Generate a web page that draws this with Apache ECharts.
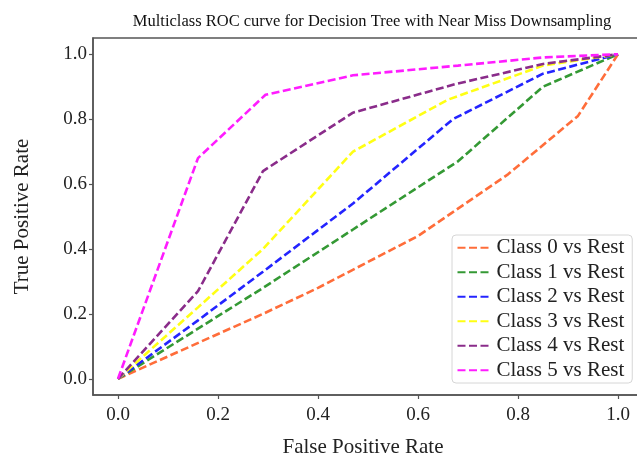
<!DOCTYPE html>
<html>
<head>
<meta charset="utf-8">
<script src="https://cdn.jsdelivr.net/npm/echarts@6/dist/echarts.min.js"></script>
<style>
  html, body { margin: 0; padding: 0; background: #fff; }
  #chart { width: 637px; height: 457px; }
</style>
</head>
<body>
<div id="chart"></div>
<script>
// ROC curve points (false positive rate / true positive rate) per class
const classNames = ['Class 0 vs Rest', 'Class 1 vs Rest', 'Class 2 vs Rest',
                    'Class 3 vs Rest', 'Class 4 vs Rest', 'Class 5 vs Rest'];
const fpr0 = [0, 0.29, 0.40, 0.60, 0.78, 0.92, 1];
const tpr0 = [0, 0.20, 0.28, 0.44, 0.63, 0.81, 1];
const fpr1 = [0, 0.29, 0.47, 0.68, 0.85, 1];
const tpr1 = [0, 0.28, 0.46, 0.67, 0.90, 1];
const fpr2 = [0, 0.16, 0.29, 0.47, 0.67, 0.85, 1];
const tpr2 = [0, 0.18, 0.33, 0.54, 0.80, 0.94, 1];
const fpr3 = [0, 0.16, 0.29, 0.47, 0.66, 0.85, 1];
const tpr3 = [0, 0.22, 0.40, 0.70, 0.86, 0.965, 1];
const fpr4 = [0, 0.16, 0.29, 0.47, 0.68, 0.85, 1];
const tpr4 = [0, 0.27, 0.64, 0.82, 0.91, 0.97, 1];
const fpr5 = [0, 0.16, 0.295, 0.47, 0.68, 0.85, 1];
const tpr5 = [0, 0.68, 0.875, 0.935, 0.965, 0.99, 1];
const tickValues = [0, 0.2, 0.4, 0.6, 0.8, 1.0];

const fprs = [fpr0, fpr1, fpr2, fpr3, fpr4, fpr5];
const tprs = [tpr0, tpr1, tpr2, tpr3, tpr4, tpr5];
const colors = ['#ff6d3a', '#349934', '#2424ff', '#ffff14', '#8a2c8a', '#ff1cff'];

const serif = "'Liberation Serif', 'Times New Roman', serif";
const frame = '#555';

const series = classNames.map((name, i) => ({
  name: name,
  type: 'line',
  data: fprs[i].map((x, j) => [x, tprs[i][j]]),
  symbol: 'none',
  showSymbol: false,
  smooth: false,
  lineStyle: { color: colors[i], width: 2.6, type: [8, 3.5] },
  itemStyle: { color: colors[i] },
  emphasis: { disabled: true }
}));

function axisCommon(nameGap, labelMargin) {
  return {
    type: 'value',
    min: -0.05,
    max: 1.05,
    nameLocation: 'middle',
    nameGap: nameGap,
    nameTextStyle: { fontFamily: serif, fontSize: 21, color: '#222' },
    axisLine: { show: true, onZero: false, lineStyle: { color: frame, width: 1.5 } },
    axisTick: { show: true, inside: false, length: 4, customValues: tickValues,
                lineStyle: { color: frame, width: 1.2 } },
    axisLabel: { customValues: tickValues, fontFamily: serif, fontSize: 19, color: '#222',
                 margin: labelMargin, formatter: v => Number(v).toFixed(1) },
    splitLine: { show: false }
  };
}

const chart = echarts.init(document.getElementById('chart'), null, { renderer: 'canvas' });
chart.setOption({
  animation: false,
  backgroundColor: '#fff',
  title: {
    text: 'Multiclass ROC curve for Decision Tree with Near Miss Downsampling',
    left: 367,
    top: 8,
    textAlign: 'center',
    textStyle: { fontFamily: serif, fontSize: 16.5, fontWeight: 'normal', color: '#111' }
  },
  grid: {
    left: 93, right: -6, top: 38, bottom: 62,
    outerBoundsMode: 'none',
    containLabel: false,
    show: true, borderColor: frame, borderWidth: 1.5, backgroundColor: '#fff'
  },
  xAxis: Object.assign(axisCommon(42, 11), { name: 'False Positive Rate',
    nameTextStyle: { fontFamily: serif, fontSize: 21, color: '#222', padding: [0, 10, 0, 0] } }),
  yAxis: Object.assign(axisCommon(60, 6), { name: 'True Positive Rate' }),
  legend: {
    data: classNames,
    orient: 'vertical',
    left: 452,
    top: 235,
    padding: [0.5, 8, 0.5, 4.5],
    itemGap: 0,
    itemWidth: 34,
    itemHeight: 12,
    itemStyle: { opacity: 0 },
    backgroundColor: '#fff',
    borderColor: '#d6d6d6',
    borderWidth: 1,
    borderRadius: 4,
    textStyle: { fontFamily: serif, fontSize: 21, color: '#222', lineHeight: 24.5 }
  },
  series: series
});
</script>
</body>
</html>
